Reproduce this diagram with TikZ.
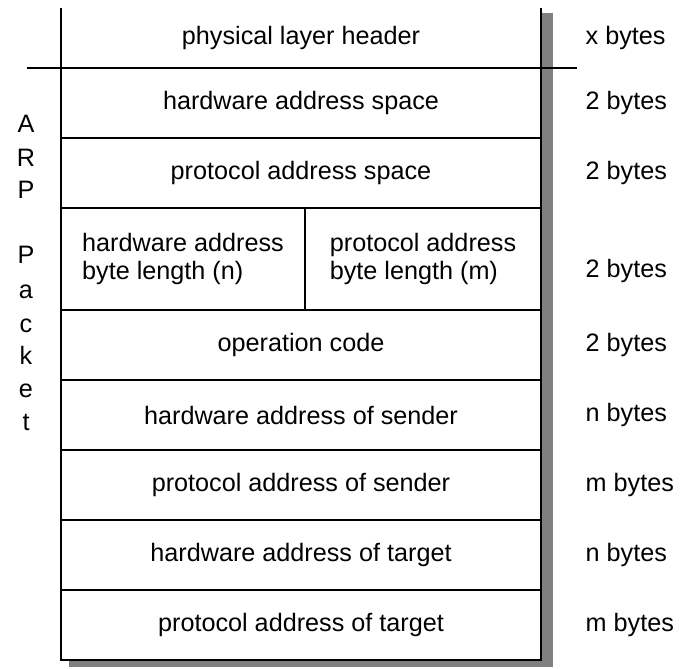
\documentclass[tikz,border=0pt]{standalone}
\usepackage{fontspec}
\setmainfont{Liberation Sans}
\usetikzlibrary{positioning}

\begin{document}
\begin{tikzpicture}[x=0.5pt,y=-0.5pt,node distance=0pt,line width=0.7pt,font=\fontsize{12.6}{14}\selectfont]
\tikzstyle{field}=[draw,fill=white,minimum width=240pt,minimum height=35pt,inner sep=0pt,outer sep=0pt]
\tikzstyle{half}=[field,align=left,minimum height=51pt,font=\fontsize{12.6}{13.8}\selectfont]
\tikzstyle{bytes}=[anchor=west,inner sep=0pt]
\useasboundingbox (0,0) rectangle (683,668);
\node[field,draw=none,minimum height=30pt,anchor=south west] (header) at (61,68) {physical layer header};
\node[field,anchor=north west] (hwspace) at (header.south west) {hardware address space};
\node[field][below=of hwspace](pspace){protocol address space};
\node[half,minimum width=122pt,anchor=north west] (hwlen) at (pspace.south west) {hardware address\\byte length (n)};
\node[half,minimum width=118pt][right=of hwlen](plen){protocol address\\byte length (m)};
\node[field,anchor=north west] (opcode) at (hwlen.south west) {operation code};
\node[field][below=of opcode](hwsender){hardware address of sender};
\node[field][below=of hwsender](psender){protocol address of sender};
\node[field][below=of psender](hwtarget){hardware address of target};
\node[field][below=of hwtarget](ptarget){protocol address of target};
% shadow
\fill[gray] ([shift={(0.35pt,-2.5pt)}]header.north east) rectangle ([shift={(6pt,-3.5pt)}]ptarget.south east);
\fill[gray] ([shift={(4pt,-0.35pt)}]ptarget.south west) rectangle ([shift={(6pt,-3.5pt)}]ptarget.south east);
\draw (header.north west) -- (header.south west);
\draw (header.north east) -- (header.south east);
\draw ([xshift=-17pt]header.south west) -- ([xshift=18pt]header.south east);
% sizes
\node[bytes] (xb) at ([xshift=22pt]header.east) {x bytes};
\node[bytes] (b1) at ([xshift=22pt]hwspace.east) {2 bytes};
\node[bytes] (b2) at ([xshift=22pt]pspace.east) {2 bytes};
\node[bytes] (b3) at ([xshift=22pt,yshift=-6pt]plen.east) {2 bytes};
\node[bytes] (b4) at ([xshift=22pt]opcode.east) {2 bytes};
\node[bytes] (b5) at ([xshift=22pt]hwsender.east) {n bytes};
\node[bytes] (b6) at ([xshift=22pt]psender.east) {m bytes};
\node[bytes] (b7) at ([xshift=22pt]hwtarget.east) {n bytes};
\node[bytes] (b8) at ([xshift=22pt]ptarget.east) {m bytes};
% ARP Packet, one letter per line
\foreach \l/\y [count=\i] in {A/133,R/167,P/198,P/263,a/298,c/332,k/364,e/397,t/430}
  \node[anchor=base,inner sep=0pt] (arp\i) at (26,\y) {\l};
\end{tikzpicture}
\end{document}
